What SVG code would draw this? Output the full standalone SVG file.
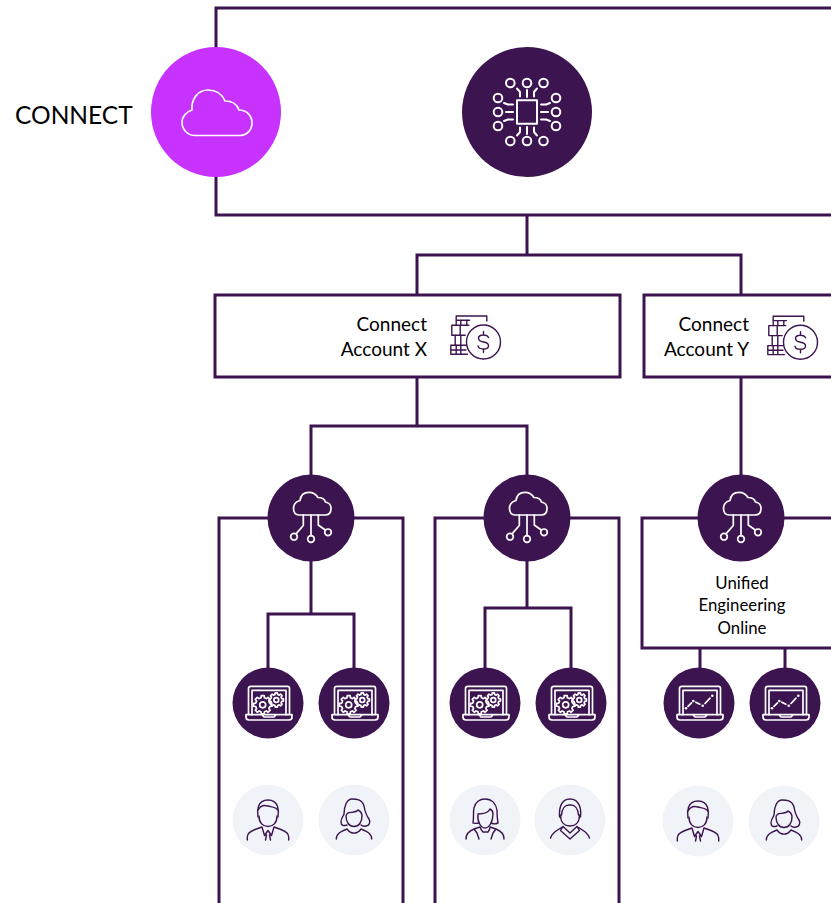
<svg xmlns="http://www.w3.org/2000/svg" xmlns:xlink="http://www.w3.org/1999/xlink" width="831" height="903" viewBox="0 0 831 903">
<style>
.ln{fill:none;stroke:#3c1450;stroke-width:3}
.dk{fill:#3c1450}
.pl{fill:#f0f3f7}
.ic{fill:none;stroke:#fff;stroke-width:1.7;stroke-linecap:round;stroke-linejoin:round}
.ip{fill:none;stroke:#3c1450;stroke-width:1.4;stroke-linecap:round;stroke-linejoin:round}
.g{vector-effect:non-scaling-stroke}
text{font-family:Lato,"Liberation Sans",sans-serif;fill:#000}
.t{font-size:19px;text-anchor:end}
.s{font-size:16.800px;text-anchor:middle}
</style>
<defs>
<path id="gear" class="g" d="M7.57-1.89L9.88-1.56V1.56L7.57 1.89L6.69 4.02L8.09 5.88L5.88 8.09L4.02 6.69L1.89 7.57L1.56 9.88H-1.56L-1.89 7.57L-4.02 6.69L-5.88 8.09L-8.09 5.88L-6.69 4.02L-7.57 1.89L-9.88 1.56V-1.56L-7.57-1.89L-6.69-4.02L-8.09-5.88L-5.88-8.09L-4.02-6.69L-1.89-7.57L-1.56-9.88H1.56L1.89-7.57L4.02-6.69L5.88-8.09L8.09-5.88L6.69-4.02Z"/>
<g id="laptop">
<path d="M-19.500 11.500V-14.500Q-19.500-16.700-17-16.700H19.500Q21.500-16.700 21.500-14.500V11.500M-22 11.700H24V14Q24 17 21 17H-19Q-22 17-22 14ZM-16 12V-12.600H18V12M-6 12L-4 14H6L8 12"/>
</g>
<g id="lapgear">
<use href="#laptop"/>
<use href="#gear" transform="translate(-5.300 1.800) scale(.92)"/>
<circle cx="-5.300" cy="1.800" r="3"/>
<use href="#gear" transform="translate(8.300 -3) scale(.72)"/>
<circle cx="8.300" cy="-3" r="2.400"/>
</g>
<g id="lapchart">
<use href="#laptop"/>
<path d="M-11 3.300L-7.500-.2M-3.200-.8L.9 1.200M6 .5L11-4.800"/>
<g fill="#fff" stroke="none"><circle cx="-13" cy="5.300" r="1.300"/><circle cx="-5.700" cy="-2" r="1.300"/><circle cx="3.700" cy="2.700" r="1.300"/><circle cx="13.300" cy="-7.300" r="1.300"/></g>
</g>
<g id="cloud2">
<path d="M-12-3H14Q20-3 20-9.500Q20-15 14.500-16Q13-20.500 7-20.500Q4-25.700-2-25.700Q-10-25.700-11-17.500Q-17.500-15.500-17.500-10Q-17.500-3-12-3Z"/>
<path d="M0-3V17.700M-7.700-3V7.500L-14.800 15.600M7.300-3V7L14.600 12.200"/>
<circle cx="0" cy="21" r="3.300"/><circle cx="-17" cy="18.700" r="3.300"/><circle cx="17" cy="14.300" r="3.300"/>
</g>
<g id="money">
<circle cx="0" cy="0" r="17"/>
<path d="M5-4.500Q4-7-.2-7Q-5-7-5-3.700Q-5-.8 0 0Q5 .8 5 3.700Q5 7 0 7Q-5 7-5.500 4M0-10.500V-7M0 7V10.500"/>
<path d="M-27.300-16.700V-26H3.300V-21M-27.300-21.700H-14M-22.700-21.700V-16.700M-16.700-21.700V-16.700"/>
<path d="M-14.700-16.700H-31.700V-6.700H-18.300M-23.300-16.700V-6.700"/>
<path d="M-28.300-6.700V3.300H-17.300M-22.700-6.700V3.300"/>
<path d="M-28 3.300H-32.700V12.300H-16M-32.700 8H-17.500M-27.300 3.300V12.300M-22.700 3.300V12.300"/>
</g>
<g id="man">
<path d="M-10-3C-11-9-11-20 0-20C11-20 11-9 10-3"/>
<path d="M-10-10C-7-15-4-15 0-14C4-13 8-13 10-10"/>
<path d="M-9-4C-9 3-5 6.500 0 6.500C5 6.500 9 3 9-4"/>
<path d="M-20.700 20V17C-20.700 13-17 11-13 9.500L-6 7L-3.500 15.500L0 10.500L3.500 15.500L6 7L13 9.500C17 11 20.700 13 20.700 17V20M-1.500 15L-2.500 20M1.500 15L2.500 20"/>
</g>
<g id="woman">
<path d="M-7 5C-10 6-13 6-13 2C-13-2-11-3-10-6C-10-14-7-21-2-21C2-21 8-21 10-14C11-8 12-5 15-1C17 2 15 6 12 6C10 6.500 8 6 7 5"/>
<path d="M-8-4C-8 2-5 6.500 0 6.500C5 6.500 8 2 8-4C8-7 6-9 4-10C2-7-4-8-6-7C-7.500-6-8-5-8-4Z"/>
<path d="M-17.700 19C-17.700 13-12 11-7 9C-3 14.500 3 14.500 7 9C12 11 17.700 13 17.700 19"/>
</g>
<g id="woman2">
<path d="M-6 3C-10 4-11 3-12 3C-11-3-12-8-11-12C-10-18-5-21 0-21C7-21 11-16 12-10C12-6 12-2 13 3C11 4 8 4 6 3"/>
<path d="M-7-6C-8 2-4 8 0 8C4 8 8 2 8-6C8-8 7-10 5-11C3-7-3-6-7-6Z"/>
<path d="M-19 19C-19 14-16 11-11 9L-5 7C-4 10-3 11-2 12H3C4 11 5 9 5 7L11 9C16 11 19 14 19 19M-11 9L-8 13L-6 19M11 9L8 13L6 19"/>
</g>
<g id="man2">
<path d="M-10.500-3C-11-12-9-21 0-21C9-21 11.500-12 10.500-3"/>
<path d="M-8.500-5C-8-11-5-15-1-15H1C5-15 8-11 8.500-5"/>
<path d="M-9.500-5C-9.500 3-5 6 0 6C5 6 9.500 3 9.500-5"/>
<path d="M-19.500 18C-18 13-14 11-7 6.500L-9.500 10.500L0 19L9.500 10.500L7 6.500C14 11 18 13 19.500 18M-7 6.500L0 13L7 6.500"/>
</g>
</defs>

<g id="connectors" class="ln">
<path d="M527 215V255M417 295V255H741V295"/>
<path d="M417 377V426M311 475V426H527V475"/>
<path d="M741 377V475"/>
<path d="M311 561V614M268 668V614H354V668"/>
<path d="M527 561V608M485 668V608H571V668"/>
<path d="M700 648V668M785 648V668"/>
</g>

<g id="platform"><path class="ln" d="M835 8H216V215H835"/></g>
<g id="label-connect"><text x="15" y="124" font-size="24.500">CONNECT</text></g>
<g id="cloud-node">
<circle cx="216" cy="112" r="65" fill="#c832ff"/>
<path class="ic" d="M-21 23.500H23C31 23.500 36 18 36 11C36 4 31-2 23-2C21-8 16-11 9-11C6-18 0-22-8-22C-18-22-25-13-24-2C-30 0-34 5-34 10C-34 18-28 23.500-21 23.500Z" transform="translate(216 112)"/>
</g>
<g id="chip-node">
<circle cx="527" cy="112" r="65" class="dk"/>
<g class="ic" style="stroke-width:2" transform="translate(527 112)">
<rect x="-10" y="-11.700" width="20" height="23.400"/>
<circle cx="-16.700" cy="-29" r="4.300"/><circle cx="0" cy="-29" r="4.300"/><circle cx="16.500" cy="-29" r="4.300"/>
<circle cx="-16.700" cy="29" r="4.300"/><circle cx="0" cy="29" r="4.300"/><circle cx="16.500" cy="29" r="4.300"/>
<circle cx="-29" cy="-14" r="4.300"/><circle cx="-29" cy="0" r="4.300"/><circle cx="-29" cy="14" r="4.300"/>
<circle cx="29" cy="-14" r="4.300"/><circle cx="29" cy="0" r="4.300"/><circle cx="29" cy="14" r="4.300"/>
<path d="M0-22V-15M0 15V22M-7-15.500V-20L-10-23.500M7-15.500V-20L10-23.500M-7 15.500V20L-10 23.500M7 15.500V20L10 23.500"/>
<path d="M-21 0H-14M14 0H21M-14-7.500H-19L-23-9M14-7.500H19L23-9M-14 7.500H-19L-23 9M14 7.500H19L23 9"/>
</g>
</g>

<g id="account-x">
<rect class="ln" x="215" y="295" width="405" height="82" fill="#fff"/>
<text class="t" x="427" y="331">Connect</text>
<text class="t" x="427" y="356">Account X</text>
<use href="#money" class="ip" transform="translate(483.500 342)"/>
</g>
<g id="account-y">
<path class="ln" d="M835 295H644V377H835"/>
<text class="t" x="749" y="331">Connect</text>
<text class="t" x="749" y="356">Account Y</text>
<use href="#money" class="ip" transform="translate(800.500 342.300)"/>
</g>

<g id="panel-1"><path class="ln" d="M219 906V518H403V906"/></g>
<g id="panel-2"><path class="ln" d="M435 906V518H619V906"/></g>
<g id="panel-3"><path class="ln" d="M835 518H642V648H835"/>
<text class="s" x="742" y="589">Unified</text>
<text class="s" x="742" y="611">Engineering</text>
<text class="s" x="742" y="634">Online</text>
</g>

<g id="cloud-1"><circle cx="311" cy="518" r="43.500" class="dk"/><use href="#cloud2" class="ic" transform="translate(311 518)"/></g>
<g id="cloud-2"><circle cx="527" cy="518" r="43.500" class="dk"/><use href="#cloud2" class="ic" transform="translate(527 518)"/></g>
<g id="cloud-3"><circle cx="741" cy="518" r="43.500" class="dk"/><use href="#cloud2" class="ic" transform="translate(741 518)"/></g>

<g id="laptop-1"><circle cx="268" cy="703" r="35.500" class="dk"/><use href="#lapgear" class="ic" transform="translate(268 703)"/></g>
<g id="laptop-2"><circle cx="354" cy="703" r="35.500" class="dk"/><use href="#lapgear" class="ic" transform="translate(354 703)"/></g>
<g id="laptop-3"><circle cx="485" cy="703" r="35.500" class="dk"/><use href="#lapgear" class="ic" transform="translate(485 703)"/></g>
<g id="laptop-4"><circle cx="571" cy="703" r="35.500" class="dk"/><use href="#lapgear" class="ic" transform="translate(571 703)"/></g>
<g id="laptop-5"><circle cx="699" cy="703" r="35.500" class="dk"/><use href="#lapchart" class="ic" transform="translate(699 703)"/></g>
<g id="laptop-6"><circle cx="785" cy="703" r="35.500" class="dk"/><use href="#lapchart" class="ic" transform="translate(785 703)"/></g>

<g id="user-1"><circle cx="268" cy="820" r="35.500" class="pl"/><use href="#man" class="ip" transform="translate(268 820)"/></g>
<g id="user-2"><circle cx="354" cy="820" r="35.500" class="pl"/><use href="#woman" class="ip" transform="translate(354 820)"/></g>
<g id="user-3"><circle cx="485" cy="820" r="35.500" class="pl"/><use href="#woman2" class="ip" transform="translate(485 820)"/></g>
<g id="user-4"><circle cx="570" cy="820" r="35.500" class="pl"/><use href="#man2" class="ip" transform="translate(570 820)"/></g>
<g id="user-5"><circle cx="698" cy="821" r="35.500" class="pl"/><use href="#man" class="ip" transform="translate(698 821)"/></g>
<g id="user-6"><circle cx="784" cy="821" r="35.500" class="pl"/><use href="#woman" class="ip" transform="translate(784 821)"/></g>
</svg>
